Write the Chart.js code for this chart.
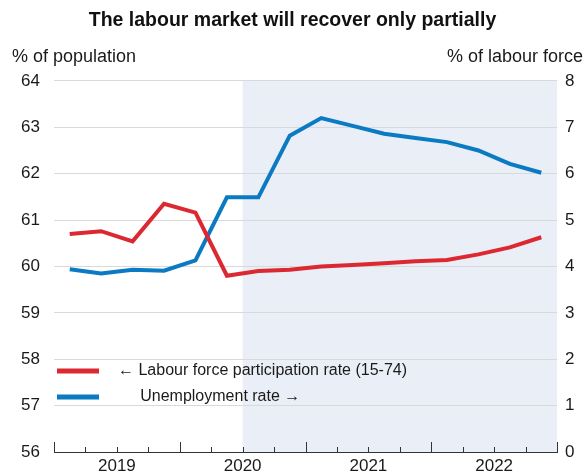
<!DOCTYPE html>
<html lang="en">
<head>
    <meta charset="UTF-8">
    <title>The labour market will recover only partially</title>
    <script src="https://cdn.jsdelivr.net/npm/chart.js"></script>
    <style>
        body { margin: 0; background: #fff; }
        #wrap { width: 585px; height: 472px; }
    </style>
</head>
<body>
    <div id="wrap"><canvas id="myChart" width="585" height="472"></canvas></div>

    <script>
        // quarterly data, 2019Q1 - 2022Q4
        const quarters = ['2019Q1', '2019Q2', '2019Q3', '2019Q4', '2020Q1', '2020Q2', '2020Q3', '2020Q4',
                          '2021Q1', '2021Q2', '2021Q3', '2021Q4', '2022Q1', '2022Q2', '2022Q3', '2022Q4'];
        const years = ['2019', '2020', '2021', '2022'];
        const participation = [60.70, 60.76, 60.54, 61.35, 61.16, 59.80, 59.90, 59.93,
                               60.00, 60.03, 60.07, 60.11, 60.14, 60.26, 60.41, 60.63];
        const unemployment = [3.94, 3.85, 3.93, 3.91, 4.13, 5.49, 5.49, 6.82,
                              7.20, 7.03, 6.86, 6.77, 6.68, 6.50, 6.21, 6.02];
        const projectionStart = '2020Q3';
        const leftTicks = [56, 64];
        const rightTicks = [0, 8];

        const FONT = 'Arial, "Liberation Sans", sans-serif';
        const RED = '#dc2830';
        const BLUE = '#0a7bc2';

        // each quarter sits in the middle of its slot on the x axis
        const toPoints = arr => arr.map((v, i) => ({ x: i + 0.5, y: v }));

        // y axes: fixed width, and no extra vertical padding from tick padding
        const fixY = w => s => { s.width = w; s.paddingTop = 0; s.paddingBottom = 0; };

        const extras = {
            id: 'extras',
            beforeDraw(chart) {
                const { ctx, chartArea, scales } = chart;
                const x0 = scales.x.getPixelForValue(quarters.indexOf(projectionStart));
                ctx.save();
                ctx.fillStyle = '#eaeef6';
                ctx.fillRect(x0, chartArea.top, chartArea.right - x0, chartArea.bottom - chartArea.top);
                ctx.restore();
            },
            afterDraw(chart) {
                const { ctx, chartArea, scales } = chart;
                ctx.save();
                // quarter tick marks, longer at year boundaries
                ctx.strokeStyle = '#333';
                ctx.lineWidth = 1;
                for (let i = 0; i <= quarters.length; i++) {
                    const px = Math.round(scales.x.getPixelForValue(i)) + 0.5;
                    const len = i % 4 === 0 ? 10 : 5;
                    ctx.beginPath();
                    ctx.moveTo(px, chartArea.bottom);
                    ctx.lineTo(px, chartArea.bottom - len);
                    ctx.stroke();
                }
                // axis units
                ctx.fillStyle = '#1a1a1a';
                ctx.font = '18px ' + FONT;
                ctx.textBaseline = 'middle';
                ctx.textAlign = 'left';
                ctx.fillText('% of population', 12, chartArea.top - 24);
                ctx.textAlign = 'right';
                ctx.fillText('% of labour force', 583, chartArea.top - 24);
                // legend inside the plot
                ctx.font = '16px ' + FONT;
                ctx.textAlign = 'left';
                chart.data.datasets.forEach((ds, i) => {
                    const y = chartArea.bottom - 81 + i * 26;
                    ctx.strokeStyle = ds.borderColor;
                    ctx.lineWidth = 5;
                    ctx.beginPath();
                    ctx.moveTo(chartArea.left + 3, y);
                    ctx.lineTo(chartArea.left + 45, y);
                    ctx.stroke();
                    ctx.fillText(ds.label, chartArea.left + 64, y);
                });
                ctx.restore();
            }
        };

        const ctx = document.getElementById('myChart').getContext('2d');
        const myChart = new Chart(ctx, {
            type: 'line',
            data: {
                datasets: [
                    {
                        label: '\u2190 Labour force participation rate (15-74)',
                        data: toPoints(participation),
                        yAxisID: 'y',
                        borderColor: RED,
                        borderWidth: 4,
                        pointRadius: 0,
                        tension: 0
                    },
                    {
                        label: '     Unemployment rate \u2192',
                        data: toPoints(unemployment),
                        yAxisID: 'y2',
                        borderColor: BLUE,
                        borderWidth: 4,
                        pointRadius: 0,
                        tension: 0
                    }
                ]
            },
            options: {
                responsive: false,
                animation: false,
                layout: { padding: 0 },
                plugins: {
                    legend: { display: false },
                    tooltip: { enabled: false },
                    title: {
                        display: true,
                        text: 'The labour market will recover only partially',
                        color: '#111',
                        font: { family: FONT, size: 19.5, weight: 'bold', lineHeight: 1.2 },
                        padding: { top: 8.5, bottom: 49 }
                    }
                },
                scales: {
                    x: {
                        type: 'linear',
                        min: 0,
                        max: quarters.length,
                        grid: { display: false, drawTicks: false },
                        border: { display: true, color: '#333', width: 1 },
                        ticks: {
                            stepSize: 1,
                            autoSkip: false,
                            maxRotation: 0,
                            padding: 4,
                            color: '#1a1a1a',
                            font: { family: FONT, size: 17 },
                            callback: v => (v % 4 === 2 ? years[(v - 2) / 4] : '')
                        },
                        afterFit: s => { s.height = 20; }
                    },
                    y: {
                        position: 'left',
                        min: leftTicks[0],
                        max: leftTicks[1],
                        grid: { color: '#d9d9d9', lineWidth: 1, drawTicks: false },
                        border: { display: false },
                        ticks: {
                            stepSize: 1,
                            padding: 14,
                            color: '#1a1a1a',
                            font: { family: FONT, size: 17 }
                        },
                        afterFit: fixY(54)
                    },
                    y2: {
                        position: 'right',
                        min: rightTicks[0],
                        max: rightTicks[1],
                        grid: { display: false, drawTicks: false },
                        border: { display: false },
                        ticks: {
                            stepSize: 1,
                            padding: 8,
                            color: '#1a1a1a',
                            font: { family: FONT, size: 17 }
                        },
                        afterFit: fixY(28)
                    }
                }
            },
            plugins: [extras]
        });
    </script>
</body>
</html>
